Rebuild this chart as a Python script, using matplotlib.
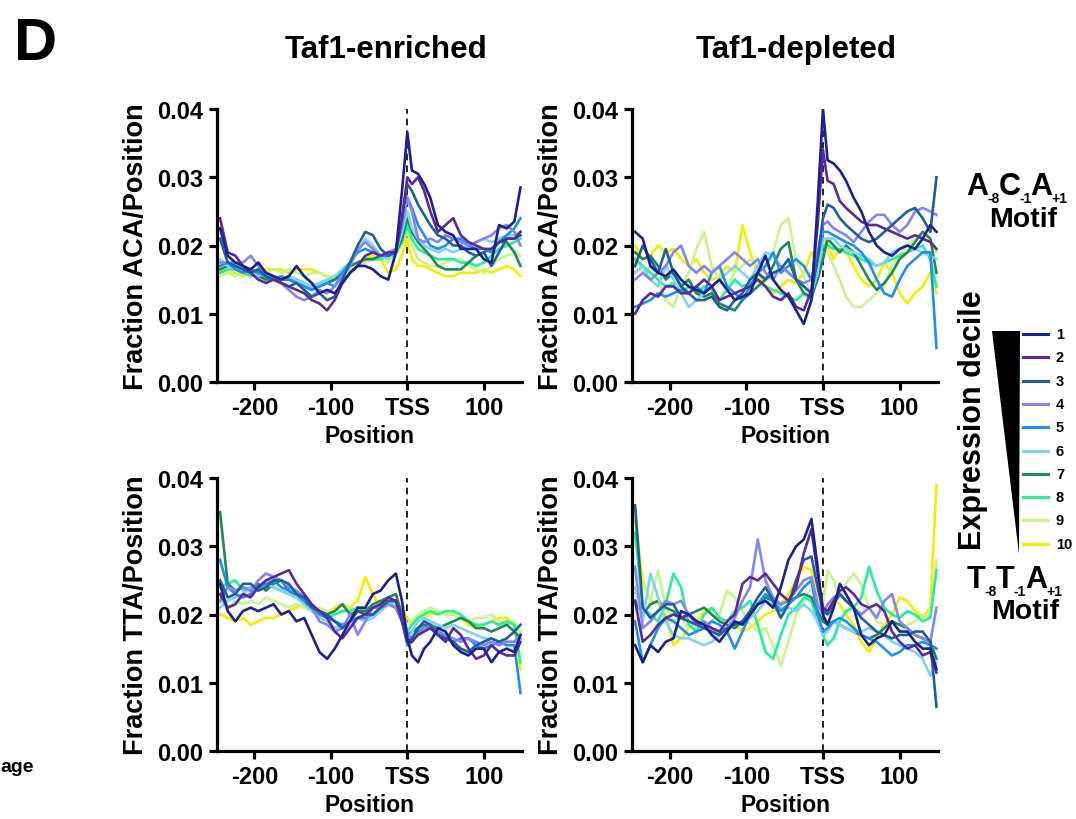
import matplotlib
matplotlib.use("Agg")
import matplotlib.pyplot as plt
from matplotlib import font_manager
from matplotlib.patches import Polygon
from matplotlib.lines import Line2D

plt.rcParams['font.family'] = ['Liberation Sans', 'DejaVu Sans']
plt.rcParams['font.weight'] = 'bold'

# ---------------------------------------------------------------- data
# position relative to the TSS (bp)
positions = [-245, -235, -225, -215, -205, -195, -185, -175, -165, -155, -145, -135,
             -125, -115, -105, -95, -85, -75, -65, -55, -45, -35, -25, -15, -7, 0,
             6, 14, 22, 30, 40, 50, 60, 70, 80, 90, 100, 110, 120, 130, 140, 148]

deciles = ['1', '2', '3', '4', '5', '6', '7', '8', '9', '10']
decile_colors = ['#1b2290', '#5b2a98', '#1f5f9c', '#8585f2', '#1e8ff5',
                 '#7fd2f7', '#1f8a57', '#25ee9c', '#c9f58a', '#f8ec00']

xtick_values = [-200, -100, 0, 100]
xtick_labels = ['-200', '-100', 'TSS', '100']
ytick_values = [0.0, 0.01, 0.02, 0.03, 0.04]
ytick_labels = ['0.00', '0.01', '0.02', '0.03', '0.04']

# fraction of sites per position, in units of 1e-3
# ACA motif, Taf1-enriched promoters
aca_enr_1 = [22.5, 18.5, 17.5, 17, 16.5, 17.5, 16, 15.5, 15, 15.5, 17, 15.5, 14.5, 13, 13.5, 13, 14.5, 16, 17, 17, 16.5, 15.5, 15, 19,
             28, 36.6, 31, 30.5, 29, 27, 23, 22, 21.5, 19.5, 19.5, 19.5, 18, 17.5, 23, 22.5, 23.5, 28.5]
aca_enr_2 = [24, 19, 18.5, 17, 16, 15, 14.5, 15, 14.5, 14, 13.5, 13, 12, 11.5, 10.5, 12, 14.5, 16, 17, 18.5, 19, 18.5, 19, 19,
             24, 30, 29, 30, 28, 25, 22, 23, 24, 21.5, 20.5, 20, 19.5, 19.5, 20.5, 21, 21, 22]
aca_enr_3 = [21, 17.5, 17, 16.5, 16, 16.5, 15.5, 15, 14.5, 14, 14.5, 13.5, 12.5, 13, 12, 12.5, 15, 17.5, 20, 22, 21.5, 19.5, 18.5, 19,
             24, 29, 28, 26, 24.5, 23, 21.5, 21, 20, 20, 19, 18.5, 19, 17, 19, 21, 21, 21.5]
aca_enr_4 = [17.5, 17.5, 17.5, 17.5, 18.5, 17, 16, 15.5, 14.5, 13.5, 12.5, 12, 12.5, 13.5, 13, 14, 15.5, 17, 19.5, 20.5, 19.5, 18.5, 19, 19.5,
             23, 27, 25, 21, 20.5, 21, 20.5, 21.5, 21, 20.5, 20, 20.5, 21, 21.5, 22.5, 23, 22, 20]
aca_enr_5 = [17, 17.5, 16.5, 16, 16.5, 16, 15.5, 15, 15.5, 15, 14.5, 14, 13.5, 14, 14.5, 14, 16, 17.5, 19, 19.5, 19, 18.5, 18.5, 19.5,
             23, 27, 25.5, 23, 21.5, 20, 19.5, 20, 21, 21, 20, 19.5, 19.5, 19, 20.5, 21.5, 22.5, 24]
aca_enr_6 = [18, 17, 16.5, 16.5, 16, 15.5, 16, 15.5, 15, 15.5, 15, 14.5, 14, 14.5, 15, 15.5, 16.5, 17.5, 19, 21, 20, 18.5, 18, 19,
             22, 25, 22.5, 21, 20, 19.5, 19, 19.5, 19, 19.5, 20, 20.5, 21, 20.5, 21, 21.5, 21.5, 22]
aca_enr_7 = [16.5, 17, 17, 16.5, 16, 15.5, 15, 15.5, 15, 15, 14.5, 14, 13.5, 14, 14.5, 15, 16, 17, 17.5, 18, 18, 18.5, 18.5, 19,
             21, 24, 22, 20.5, 19.5, 18.5, 17, 16.5, 16.5, 16.5, 17.5, 18.5, 19, 19.5, 20.5, 20.5, 19, 17]
aca_enr_8 = [16, 16.5, 16.5, 16, 15.5, 16, 15, 15, 15.5, 15, 15, 14.5, 14, 14.5, 15, 15, 16, 17, 17.5, 18, 18, 18, 18.5, 19,
             20.5, 23, 21, 19.5, 19, 18.5, 18, 18, 18, 17.5, 17.5, 17, 17.5, 18.5, 19.5, 20, 20.5, 21]
aca_enr_9 = [15.5, 16, 15.5, 16, 16, 16.5, 16, 16.5, 16, 16.5, 16, 15.5, 16, 16, 15.5, 15.5, 16, 16.5, 17, 17.5, 18, 18, 17.5, 18.5,
             20, 22, 20, 18, 17.5, 17, 17, 17.5, 18, 18, 17, 16.5, 16, 17, 18, 18.5, 19, 18.5]
aca_enr_10 = [16.5, 16, 16, 15.5, 16, 16, 16.5, 16.5, 16.5, 16, 16.5, 16.5, 16.5, 16, 15.5, 15.5, 16, 16.5, 17, 18, 18.5, 18, 16, 16.5,
              18.5, 21, 18, 17, 17, 16.5, 16, 15.5, 15.5, 16, 16, 16, 16.5, 16, 16.5, 17, 16.5, 15.5]

# ACA motif, Taf1-depleted promoters
aca_dep_1 = [22, 21, 17, 16, 15.5, 16.5, 15, 14, 13.5, 13, 14, 15, 13.5, 12, 12.5, 13, 16, 18.5, 15, 13.5, 12.5, 10.5, 8.5, 12,
             26, 40, 32.5, 32, 31, 29.5, 27, 25, 22, 20, 19, 18.5, 19.5, 20, 19.5, 21, 23, 22]
aca_dep_2 = [10, 12, 13, 12.5, 14, 14, 13, 13, 14, 15, 14, 12, 12.5, 13, 13.5, 14, 15, 14, 12.5, 12, 13, 11, 10.5, 13.5,
             23, 34, 29.5, 29, 26.5, 25.5, 24.5, 23.5, 23, 23, 22.5, 22, 21.5, 21, 21.5, 21, 20.5, 19.5]
aca_dep_3 = [17, 20, 18, 16, 19.5, 16, 14, 13, 12, 12, 12.5, 11, 10.5, 12, 13, 15, 16, 15, 16, 16.5, 18, 15, 14, 13,
             18, 24, 26, 25.5, 24, 23, 22, 21, 20.5, 21, 22, 23, 24, 25, 25.5, 24, 22, 30]
aca_dep_4 = [15, 16, 15, 16, 17, 19, 20, 17, 16, 17, 16, 17, 18, 19, 18, 17, 18, 16, 15, 17, 16, 15, 14.5, 15,
             19, 23, 23.5, 22.5, 22, 21.5, 20.5, 22, 23.5, 24.5, 24.5, 23, 22, 23, 25, 25.5, 25, 24.5]
aca_dep_5 = [11, 11.5, 12, 13, 12.5, 13, 13.5, 13, 14, 13, 16, 17, 14, 13, 12, 14, 16, 17, 19, 16, 17, 18, 17, 15,
             18, 22, 22, 21.5, 21, 20.5, 20, 19, 17.5, 15, 13, 12.5, 15, 17, 18, 19, 19, 5]
aca_dep_6 = [16, 17, 15, 14, 17, 15, 13, 11, 12, 13, 14, 15, 16, 17, 16, 15, 17, 19, 18.5, 17, 16, 15, 14, 13,
             16, 21, 21, 21, 20, 19.5, 19, 18.5, 18, 17, 17.5, 19, 19.5, 20, 19.5, 19, 18.5, 18]
aca_dep_7 = [19, 18, 18.5, 17, 15, 16, 14, 15, 13, 12.5, 13, 11.5, 11, 10.5, 12, 13, 14, 15, 17, 19.5, 20.5, 15, 13, 12.5,
             15, 18, 21, 20, 19, 20, 19, 17, 15, 13.5, 14.5, 16, 18, 19, 20.5, 22, 21, 16]
aca_dep_8 = [18, 17, 16, 15, 14, 14.5, 13, 14, 13, 14, 13.5, 12, 13.5, 15, 14, 14.5, 15, 14, 13.5, 13, 12.5, 12, 13, 12,
             16, 20, 20, 19.5, 19.5, 19, 18.5, 18, 17.5, 17, 17.5, 18, 18.5, 19, 19.5, 20, 18, 14]
aca_dep_9 = [18, 16, 17, 15, 12, 11, 14, 16, 19.5, 22, 17, 15, 14, 16, 17, 18, 17, 16.5, 19, 23, 24, 18, 15.5, 13,
             16, 19, 19, 17, 15, 12.5, 11, 11, 12, 13, 14, 17, 18.5, 20, 21, 22, 21, 19]
aca_dep_10 = [20, 18, 18.5, 20, 19, 19.5, 18, 17, 18, 16, 15, 15.5, 17, 16, 23, 19, 16, 14, 13, 14, 15, 14.5, 16, 19,
              17, 21, 20, 18, 19.5, 19, 17, 15, 14, 15, 17.5, 16, 13, 11.5, 13, 14, 16, 13]

# TTA motif, Taf1-enriched promoters
tta_enr_1 = [24.5, 20.5, 19, 20.5, 21, 20.5, 21, 21.5, 20, 20.5, 19, 19.5, 17, 14.5, 13.5, 15, 17, 19, 21, 21, 23, 23.5, 25, 26,
             22, 16.5, 14, 13, 15, 16, 18, 17.5, 15.5, 14.5, 14, 15, 15, 13, 14.5, 15, 14.5, 17]
tta_enr_2 = [23, 21, 21.5, 23, 22.5, 24, 25, 25.5, 26, 26.5, 24.5, 23, 21.5, 20.5, 19.5, 17.5, 16.5, 18, 19.5, 20, 21, 21.5, 22.5, 22,
             19, 16, 16, 17, 17.5, 18, 17, 16, 18, 17, 15, 13.5, 14, 15.5, 14.5, 14, 14, 16]
tta_enr_3 = [25, 22.5, 23, 24.5, 24.5, 23.5, 24, 25, 25, 24.5, 23, 22.5, 21, 20.5, 20, 19, 18, 19, 20.5, 20, 20, 21, 22, 22,
             20, 16, 16.5, 18, 19, 18.5, 17, 16.5, 16, 15, 14.5, 15.5, 16, 16.5, 16, 16.5, 17.5, 18.5]
tta_enr_4 = [22, 24, 23.5, 24, 23.5, 25, 26, 25.5, 25, 24, 23.5, 22.5, 21, 19, 18.5, 17.5, 18, 20, 17, 19, 21, 21, 21.5, 21,
             19, 17, 16.5, 17, 18, 18, 17.5, 17, 16.5, 16, 16.5, 16, 15.5, 16, 15.5, 16, 16, 17]
tta_enr_5 = [28, 24, 23, 22.5, 23, 24, 24.5, 25, 24, 23.5, 23, 22, 21, 20, 19.5, 19, 18.5, 19, 19.5, 19.5, 20, 21, 21.5, 21,
             19, 15.5, 16, 17.5, 18, 18.5, 17.5, 16.5, 16, 16.5, 16.5, 15.5, 15, 15.5, 16, 15.5, 15.5, 8.5]
tta_enr_6 = [21, 22, 22.5, 23, 24, 23.5, 24.5, 24, 23.5, 23, 22.5, 21.5, 20.5, 19.5, 19, 18, 18.5, 19, 19.5, 19, 19.5, 20.5, 21.5, 21.5,
             19.5, 16, 17.5, 19, 19.5, 19, 18.5, 18, 18.5, 18, 17.5, 17, 16.5, 16.5, 16, 16, 16, 16.5]
tta_enr_7 = [35, 24.5, 23.5, 24, 23.5, 24.5, 23.5, 24.5, 25, 23.5, 22.5, 22, 21, 20.5, 20, 20.5, 21.5, 20, 20.5, 20.5, 21.5, 22, 22.5, 23,
             20, 17, 17.5, 18, 18.5, 18.5, 18, 18.5, 19, 19.5, 19, 18, 18, 17.5, 18, 18.5, 17.5, 16.5]
tta_enr_8 = [24, 24.5, 25, 23.5, 24, 23.5, 24.5, 24, 23.5, 23, 22.5, 22, 21, 20.5, 19.5, 20, 20.5, 20.5, 21, 20.5, 21, 21.5, 22, 21.5,
             20, 17.5, 18.5, 19.5, 20, 20.5, 20, 20.5, 20.5, 20, 19, 18.5, 18.5, 19, 18.5, 19, 18.5, 13]
tta_enr_9 = [22, 21, 22, 21.5, 22, 21.5, 22.5, 22, 21.5, 21, 21.5, 21, 20.5, 21, 20.5, 20, 20.5, 21, 20.5, 20.5, 21, 21.5, 22, 21.5,
             20.5, 18.5, 19, 20, 20.5, 21, 20.5, 20, 20, 19.5, 19, 19.5, 19.5, 20, 19, 18.5, 19, 17.5]
tta_enr_10 = [20, 19.5, 19, 19.5, 18.5, 19, 19.5, 19.5, 20, 20.5, 21, 21.5, 21, 20.5, 20, 21, 21.5, 21, 22, 25.5, 23, 21, 21.5, 22,
              20.5, 19.5, 18.5, 19, 19.5, 20, 20.5, 20, 20, 19.5, 18.5, 18, 18.5, 19, 19.5, 19.5, 18.5, 12]

# TTA motif, Taf1-depleted promoters
tta_dep_1 = [15.5, 13, 15.5, 14.5, 16, 16.5, 20.5, 20, 19, 18.5, 17, 16, 17.5, 19, 18.5, 20, 21.5, 22, 21, 24, 28, 30, 31, 34,
             27, 20, 18.5, 21, 24.5, 23, 21, 17, 15.5, 16.5, 17, 19, 17.5, 17.5, 16, 15, 15, 12]
tta_dep_2 = [22, 16, 17, 18.5, 19.5, 20, 19.5, 20, 19, 18.5, 18, 17.5, 19, 20, 24.5, 25.5, 25, 26, 24.5, 23, 22, 24, 29, 32.5,
             26, 21, 20.5, 22, 23.5, 24, 23, 21.5, 21, 21.5, 20.5, 17.5, 16, 15, 15.5, 14, 14.5, 11.5]
tta_dep_3 = [36, 21, 19.5, 20.5, 21.5, 21.5, 19.5, 19, 18.5, 18, 17.5, 17, 18, 18.5, 19, 20.5, 22.5, 24, 22, 19.5, 21.5, 25, 28, 28.5,
             24, 20.5, 20, 21.5, 23, 22, 21, 19.5, 18.5, 17.5, 17, 16.5, 17, 17, 17.5, 17.5, 16, 6.5]
tta_dep_4 = [27, 18, 19, 20.5, 22, 21.5, 22, 20, 18.5, 19, 18, 17.5, 18, 19.5, 22, 24, 31, 25, 22.5, 21.5, 22, 23.5, 25, 25.5,
             21.5, 20, 21.5, 22.5, 23, 22, 21, 20, 21, 19.5, 22, 23, 19, 18, 17, 16.5, 16, 21]
tta_dep_5 = [19, 13, 15.5, 18, 19.5, 19, 18, 17, 17.5, 18, 19, 18.5, 17.5, 15, 17.5, 20, 21.5, 23, 22, 20.5, 21.5, 22.5, 24, 25,
             20, 17.5, 18, 19, 19.5, 19, 18, 17, 16.5, 16, 15, 14, 14.5, 15.5, 15.5, 16, 15.5, 15]
tta_dep_6 = [24, 19, 26, 22.5, 19, 17, 16.5, 16.5, 16, 15.5, 16, 17, 18, 18.5, 19, 19.5, 20.5, 22, 21.5, 21, 21, 20.5, 21.5, 20.5,
             19, 17, 17.5, 19, 18.5, 18, 17.5, 17.5, 18, 17.5, 17, 16, 15.5, 15, 14.5, 13.5, 11, 13]
tta_dep_7 = [22, 20, 21.5, 22, 21, 20.5, 19.5, 20, 20.5, 21, 20, 19, 18.5, 18, 19, 20, 21.5, 22.5, 22, 21.5, 22, 22.5, 23, 22.5,
             20.5, 19, 18.5, 19, 18.5, 18, 17.5, 17, 16.5, 17, 18, 19, 18.5, 18, 17, 16.5, 16, 13.5]
tta_dep_8 = [32, 21, 20, 19, 21.5, 26, 24, 18.5, 17.5, 20, 21, 19.5, 19, 20.5, 21, 22, 18.5, 14.5, 13.5, 17, 20, 21, 22.5, 22,
             19, 17, 15.5, 16.5, 19, 20.5, 21, 22.5, 27, 23.5, 21, 20, 19.5, 20.5, 20, 19, 19.5, 26.5]
tta_dep_9 = [23, 24.5, 22, 26.5, 21, 19, 19.5, 18, 19, 18.5, 19, 20, 23.5, 22.5, 20.5, 18.5, 17.5, 18, 15.5, 12.5, 16, 20, 22, 24,
             21, 21.5, 26.5, 25, 22.5, 24.5, 26, 24.5, 21, 19, 18.5, 19, 17.5, 18.5, 19, 20, 19.5, 28]
tta_dep_10 = [34, 25, 22, 21.5, 20, 15.5, 16.5, 18, 19, 20.5, 21, 19.5, 19, 18.5, 17.5, 18, 19, 20, 20.5, 21.5, 23, 25, 27, 26.5,
              22, 20.5, 21.5, 22, 21.5, 20, 18.5, 16, 14.5, 16.5, 18.5, 20, 22.5, 22, 20.5, 19.5, 21, 39]

aca_enriched = [aca_enr_1, aca_enr_2, aca_enr_3, aca_enr_4, aca_enr_5,
                aca_enr_6, aca_enr_7, aca_enr_8, aca_enr_9, aca_enr_10]
aca_depleted = [aca_dep_1, aca_dep_2, aca_dep_3, aca_dep_4, aca_dep_5,
                aca_dep_6, aca_dep_7, aca_dep_8, aca_dep_9, aca_dep_10]
tta_enriched = [tta_enr_1, tta_enr_2, tta_enr_3, tta_enr_4, tta_enr_5,
                tta_enr_6, tta_enr_7, tta_enr_8, tta_enr_9, tta_enr_10]
tta_depleted = [tta_dep_1, tta_dep_2, tta_dep_3, tta_dep_4, tta_dep_5,
                tta_dep_6, tta_dep_7, tta_dep_8, tta_dep_9, tta_dep_10]

# ---------------------------------------------------------------- figure
W, H = 1076, 820
fig = plt.figure(figsize=(W / 100, H / 100), dpi=100)
renderer = fig.canvas.get_renderer()


def fx(px):
    return px / W


def fy(py):
    return 1 - py / H


def axes_px(left, top, right, bottom):
    return fig.add_axes([fx(left), fy(bottom), (right - left) / W, (bottom - top) / H])


names = {f.name for f in font_manager.fontManager.ttflist}
if 'Liberation Sans Narrow' in names:
    ylabel_font = dict(family=['Liberation Sans Narrow', 'Liberation Sans'], fontsize=22, fontweight='bold')
else:
    ylabel_font = dict(family=['Liberation Sans', 'DejaVu Sans'], fontsize=19.5, fontweight='bold')

tick_font = 17


def style_axes(ax, ylabel):
    ax.set_xlim(-249, 150)
    ax.set_ylim(0, 0.04)
    for side in ('top', 'right'):
        ax.spines[side].set_visible(False)
    for side in ('left', 'bottom'):
        ax.spines[side].set_linewidth(2.3)
    ax.set_xticks(xtick_values)
    ax.set_xticklabels(xtick_labels)
    ax.set_yticks(ytick_values)
    ax.set_yticklabels(ytick_labels)
    ax.tick_params(direction='out', length=6, width=2.3, labelsize=tick_font, pad=4)
    for lab in ax.get_xticklabels() + ax.get_yticklabels():
        lab.set_fontweight('bold')
    ax.set_xlabel('Position', fontsize=16.5, fontweight='bold', labelpad=4)
    ax.set_ylabel(ylabel, labelpad=6, **ylabel_font)
    ax.axvline(0, ymin=0, ymax=1, color='black', lw=1.2, ls=(0, (4, 3)), zorder=1)


def draw_panel(ax, series):
    for vals, color in reversed(list(zip(series, decile_colors))):
        ax.plot(positions, [v / 1000 for v in vals], color=color, lw=1.9,
                solid_joinstyle='round', zorder=2)


def motif_label(x0, baseline, pieces):
    """Write letters with small subscripts, advancing left to right (pixel coords)."""
    x = x0
    for s, size, drop in pieces:
        t = fig.text(fx(x), fy(baseline + drop), s, fontsize=size, fontweight='bold',
                     ha='left', va='baseline')
        x += t.get_window_extent(renderer).width - 1


panels = [
    ((217, 110, 522, 383), aca_enriched, 'Fraction ACA/Position'),
    ((632, 110, 938, 383), aca_depleted, 'Fraction ACA/Position'),
    ((217, 479, 522, 752), tta_enriched, 'Fraction TTA/Position'),
    ((632, 479, 938, 752), tta_depleted, 'Fraction TTA/Position'),
]
for box, series, ylab in panels:
    ax = axes_px(*box)
    draw_panel(ax, series)
    style_axes(ax, ylab)

# column titles and panel letter
fig.text(fx(386), fy(50), 'Taf1-enriched', fontsize=22.5, fontweight='bold', ha='center', va='center')
fig.text(fx(796), fy(50), 'Taf1-depleted', fontsize=22.5, fontweight='bold', ha='center', va='center')
fig.text(fx(14), fy(60), 'D', fontsize=43, fontweight='bold', ha='left', va='baseline')
fig.text(fx(0), fy(772), 'age', fontsize=14, fontweight='bold', ha='left', va='baseline')

# motif labels on the right
motif_label(966, 195, [('A', 22, 0), ('-8', 10, 8), ('C', 22, 0), ('-1', 10, 8),
                       ('A', 22, 0), ('+1', 10, 8)])
fig.text(fx(1023), fy(220), 'Motif', fontsize=20.5, fontweight='bold', ha='center', va='center')
motif_label(967, 588, [('T', 22, 0), ('-8', 10, 8), ('T', 22, 0), ('-1', 10, 8),
                       ('A', 22, 0), ('+1', 10, 8)])
fig.text(fx(1025), fy(612), 'Motif', fontsize=20.5, fontweight='bold', ha='center', va='center')

# expression-decile key
fig.text(fx(973), fy(420), 'Expression decile', fontsize=22, fontweight='bold',
         rotation=90, ha='center', va='center')
tri = Polygon([(fx(992), fy(332)), (fx(1020), fy(332)), (fx(1019), fy(555))],
              closed=True, facecolor='black', edgecolor='none', transform=fig.transFigure)
fig.patches.append(tri)
for i, (lab, color) in enumerate(zip(deciles, decile_colors)):
    y = 335 + i * 23.3
    fig.add_artist(Line2D([fx(1023), fx(1048)], [fy(y), fy(y)], color=color, lw=2.2,
                          transform=fig.transFigure))
    fig.text(fx(1056), fy(y), lab, fontsize=10.5, fontweight='bold', ha='left', va='center')

fig.savefig('out.png', dpi=100)
